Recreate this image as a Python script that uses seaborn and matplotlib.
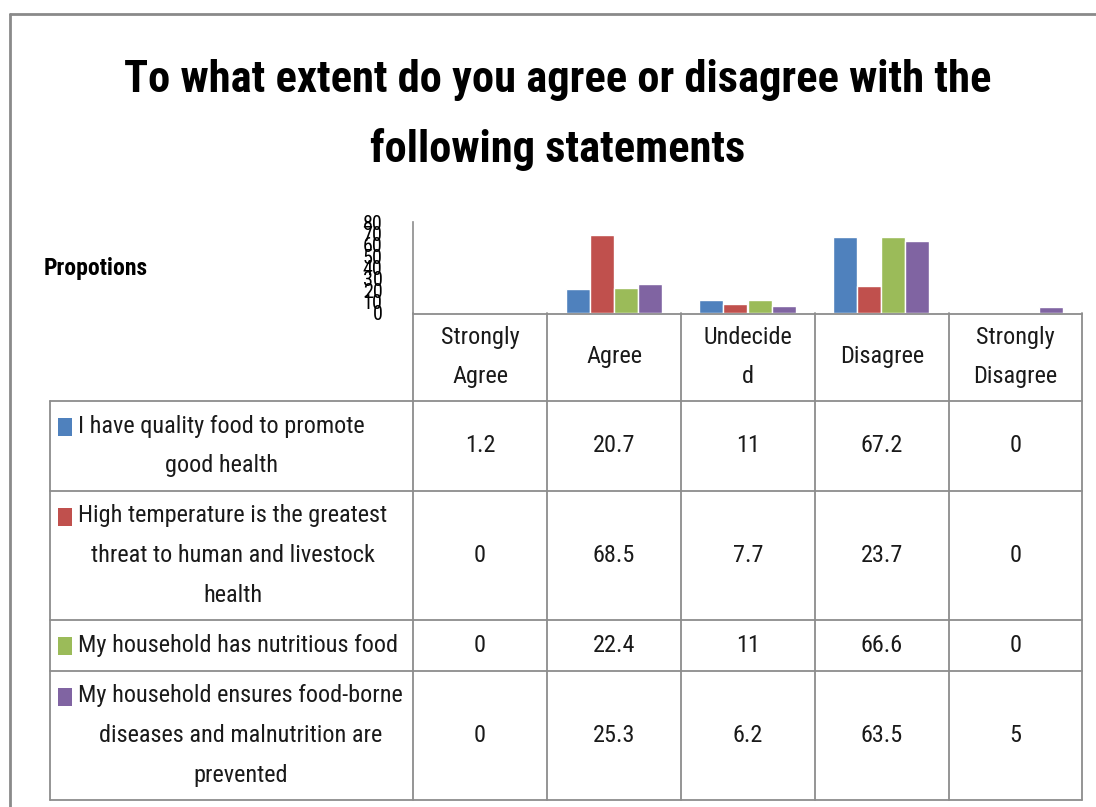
import matplotlib
matplotlib.use("Agg")
import matplotlib.pyplot as plt
from matplotlib import font_manager
from matplotlib.lines import Line2D
from matplotlib.patches import Rectangle
import seaborn as sns
import pandas as pd

# --- data -------------------------------------------------------------
responses = ["Strongly Agree", "Agree", "Undecided", "Disagree", "Strongly Disagree"]
header_labels = ["Strongly\nAgree", "Agree", "Undecide\nd", "Disagree", "Strongly\nDisagree"]
statements = [
    "I have quality food to promote\ngood health",
    "High temperature is the greatest\nthreat to human and livestock\nhealth",
    "My household has nutritious food",
    "My household ensures food-borne\ndiseases and malnutrition are\nprevented",
]
quality_food = [1.2, 20.7, 11, 67.2, 0]
high_temperature = [0, 68.5, 7.7, 23.7, 0]
nutritious_food = [0, 22.4, 11, 66.6, 0]
food_borne = [0, 25.3, 6.2, 63.5, 5]
series_values = [quality_food, high_temperature, nutritious_food, food_borne]
y_ticks = [0, 10, 20, 30, 40, 50, 60, 70, 80]
title = "To what extent do you agree or disagree with the\nfollowing statements"
y_label = "Propotions"
colors = ["#4F81BD", "#C0504D", "#9BBB59", "#8064A2"]


def pick_font(names):
    for n in names:
        try:
            font_manager.findfont(n, fallback_to_default=False)
            return n
        except Exception:
            continue
    return "DejaVu Sans"


narrow = pick_font(["Liberation Sans Narrow", "Roboto Condensed", "Open Sans Condensed", "Liberation Sans"])

rows = []
for stmt, vals in zip(statements, series_values):
    for resp, v in zip(responses, vals):
        rows.append({"response": resp, "statement": stmt, "value": v})
df = pd.DataFrame(rows)

sns.set_theme(style="white")
plt.rcParams["font.family"] = [narrow, "DejaVu Sans"]

W, H = 1096, 807
fig = plt.figure(figsize=(W / 100, H / 100), dpi=100)


def fx(x):
    return x / W


def fy(y):
    return 1 - y / H


# plot area
x0, x1, ytop, ybot = 413, 1082, 222, 313
ax = fig.add_axes([fx(x0), fy(ybot), fx(x1) - fx(x0), fy(ytop) - fy(ybot)])
sns.barplot(data=df, x="response", y="value", hue="statement", order=responses,
            hue_order=statements, palette=colors, width=0.72, gap=0,
            saturation=1, legend=False, ax=ax, errorbar=None)
ax.set_xlim(-0.5, len(responses) - 0.5)
ax.set_ylim(0, 80)
ax.set_yticks(y_ticks)
ax.set_yticklabels([str(t) for t in y_ticks], fontsize=14.5, color="black")
ax.tick_params(axis="y", length=0, pad=22)
ax.set_xticks([])
ax.set_xlabel("")
ax.set_ylabel("")
for s in ["top", "right", "bottom"]:
    ax.spines[s].set_visible(False)
ax.spines["left"].set_color("#8c8c8c")
ax.spines["left"].set_linewidth(1.2)
ax.set_zorder(2)
ax.patch.set_alpha(0)

# title and axis caption
fig.text(fx(558), fy(115), title, ha="center", va="center", fontsize=32,
         fontweight="bold", linespacing=1.78, color="black")
fig.text(fx(44), fy(269), y_label, ha="left", va="center", fontsize=17,
         fontweight="bold", color="black")

# outer frame
frame_col = "#8a8a8a"
fig.add_artist(Line2D([fx(10), fx(10)], [fy(14), 0], transform=fig.transFigure,
                      color=frame_col, lw=2))
fig.add_artist(Line2D([fx(10), 1], [fy(14), fy(14)], transform=fig.transFigure,
                      color=frame_col, lw=2))

# data table grid
grid_col = "#8c8c8c"
col_edges = [413, 547, 681, 815, 949, 1082]
row_edges = [401, 491, 620, 671, 800]
lw = 1.3


def hline(y, xa, xb):
    fig.add_artist(Line2D([fx(xa), fx(xb)], [fy(y), fy(y)], transform=fig.transFigure,
                          color=grid_col, lw=lw, zorder=1))


def vline(x, ya, yb):
    fig.add_artist(Line2D([fx(x), fx(x)], [fy(ya), fy(yb)], transform=fig.transFigure,
                          color=grid_col, lw=lw, zorder=1))


hline(314, 413, 1082)
for y in row_edges:
    hline(y, 50, 1082)
vline(50, 401, 800)
vline(413, 313, 800)
for x in col_edges[1:]:
    vline(x, 313, 800)

cell_fs = 17.5
line_px = 38.5
cell_ls = 1.92
# header cells
for i, lab in enumerate(header_labels):
    cx = (col_edges[i] + col_edges[i + 1]) / 2
    fig.text(fx(cx), fy(357), lab, ha="center", va="center", fontsize=cell_fs,
             linespacing=cell_ls, color="#1a1a1a")

# row cells
for r, (stmt, vals) in enumerate(zip(statements, series_values)):
    ya, yb = row_edges[r], row_edges[r + 1]
    cy = (ya + yb) / 2
    n_lines = stmt.count("\n") + 1
    first_line_y = cy - (n_lines - 1) * line_px / 2
    fig.add_artist(Rectangle((fx(58), fy(first_line_y + 9)), fx(14), fy(0) - fy(18),
                             transform=fig.transFigure, facecolor=colors[r],
                             edgecolor="none"))
    fig.text(fx(78), fy(cy), stmt, ha="left", va="center", multialignment="center",
             fontsize=cell_fs, linespacing=cell_ls, color="#1a1a1a")
    for i, v in enumerate(vals):
        cx = (col_edges[i] + col_edges[i + 1]) / 2
        fig.text(fx(cx), fy(cy), f"{v:g}", ha="center", va="center",
                 fontsize=cell_fs, color="#1a1a1a")

fig.savefig("out.png", dpi=100)
